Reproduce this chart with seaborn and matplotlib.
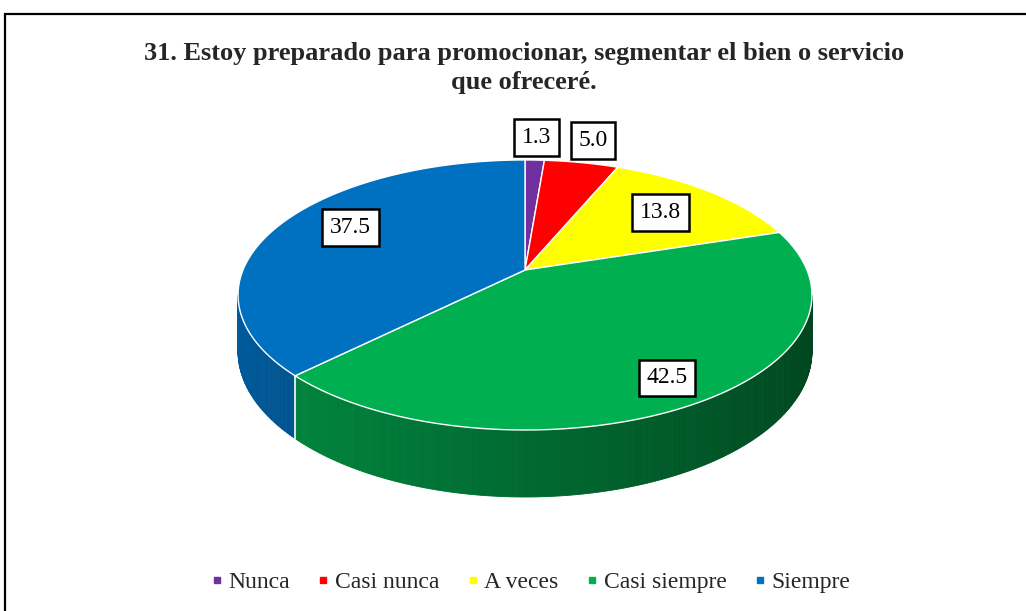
import numpy as np
import matplotlib
matplotlib.use("Agg")
import matplotlib.pyplot as plt
from matplotlib.patches import Polygon, Rectangle
from matplotlib.lines import Line2D
import seaborn as sns

# Survey answers (percent of respondents)
categories = ["Nunca", "Casi nunca", "A veces", "Casi siempre", "Siempre"]
values = [1.3, 5.0, 13.8, 42.5, 37.5]
colors = ["#7030A0", "#FF0000", "#FFFF00", "#00B050", "#0070C0"]
title = "31. Estoy preparado para promocionar, segmentar el bien o servicio\nque ofreceré."

# Radial placement of each value label (fraction of the pie radius)
label_radius = [1.25, 1.25, 0.71, 0.84, 0.745]
label_shift = [0.0, 0.0, 0.0, 0.0, 5.2]   # extra angle (degrees) for crowded labels

sns.set_theme(style="white")
plt.rcParams["font.family"] = ["Liberation Serif", "DejaVu Serif"]

W, Hpx = 1026, 611
fig = plt.figure(figsize=(W / 100, Hpx / 100), dpi=100)
ax = fig.add_axes([0, 0, 1, 1])
ax.set_xlim(0, W)
ax.set_ylim(Hpx, 0)
ax.axis("off")

# Perspective projection of a tilted disk (u: right, v: toward viewer, z: depth down)
CX, CY = 525.0, 270.0
A, B, K, THICK = 282.0, 130.4, 0.185, 54.6


def proj(u, v, z=0.0):
    w = 1.0 - K * v
    return CX + A * u / w, CY + (B * v + THICK * z) / w


def disk(theta_deg, r=1.0):
    t = np.radians(theta_deg)
    return r * np.sin(t), -r * np.cos(t)


total = sum(values)
bounds = np.concatenate([[0.0], np.cumsum(values) / total * 360.0])

# Side wall: visible between the two silhouette angles
sil = np.degrees(np.arccos(-K))
vis_lo, vis_hi = sil, 360.0 - sil


def shade(color, theta):
    rgb = np.array(matplotlib.colors.to_rgb(color))
    f = 0.60 - 0.21 * np.sin(np.radians(theta))
    return np.clip(rgb * f, 0, 1)


for i, c in enumerate(colors):
    a0, a1 = max(bounds[i], vis_lo), min(bounds[i + 1], vis_hi)
    if a1 <= a0:
        continue
    steps = np.linspace(a0, a1, max(int((a1 - a0) * 2), 2))
    for s0, s1 in zip(steps[:-1], steps[1:]):
        pts = []
        for th, z in ((s0, 0), (s1, 0), (s1, 1), (s0, 1)):
            u, v = disk(th)
            pts.append(proj(u, v, z))
        col = shade(c, 0.5 * (s0 + s1))
        ax.add_patch(Polygon(pts, closed=True, fc=col, ec=col, lw=0.6, zorder=2))

# White seam between wall segments
for b in bounds[1:-1]:
    if vis_lo < b < vis_hi:
        u, v = disk(b)
        p0, p1 = proj(u, v, 0), proj(u, v, 1)
        ax.plot([p0[0], p1[0]], [p0[1], p1[1]], color="white", lw=1.2, zorder=3)

# Top faces
for i, c in enumerate(colors):
    th = np.linspace(bounds[i], bounds[i + 1], max(int(values[i] * 4), 4))
    pts = [proj(0, 0)] + [proj(*disk(t)) for t in th]
    ax.add_patch(Polygon(pts, closed=True, fc=c, ec="white", lw=1.0,
                         joinstyle="round", zorder=4))

# Value labels
for i, val in enumerate(values):
    mid = 0.5 * (bounds[i] + bounds[i + 1]) + label_shift[i]
    x, y = proj(*disk(mid, label_radius[i]))
    ax.text(x, y, f"{val:.1f}", ha="center", va="center", fontsize=17,
            color="black", zorder=6,
            bbox=dict(boxstyle="square,pad=0.33", fc="white", ec="black", lw=1.8))

# Title
fig.text(0.511, 1 - 68 / Hpx, title, ha="center", va="center", fontsize=19,
         fontweight="bold", linespacing=1.38)

# Legend
handles = [Line2D([], [], marker="s", color=c, linestyle="none", markersize=5)
           for c in colors]
fig.legend(handles, categories, loc="center", bbox_to_anchor=(0.5166, 1 - 582 / Hpx),
           ncol=5, frameon=False, fontsize=17, handletextpad=0.2,
           columnspacing=1.1, handlelength=0.6)

# Chart frame
fig.add_artist(Rectangle((5 / W, -0.05), 1.2, 1 - 14 / Hpx + 0.05,
                         transform=fig.transFigure, fill=False, ec="black", lw=1.6))

fig.savefig("out.png", dpi=100)
